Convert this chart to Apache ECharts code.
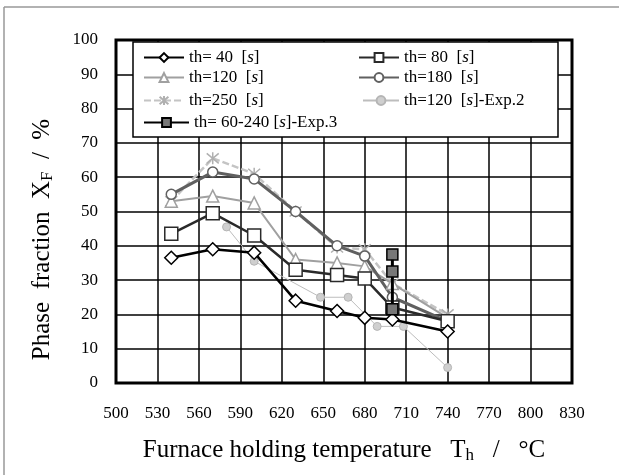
<!DOCTYPE html>
<html><head><meta charset="utf-8">
<script src="https://cdn.jsdelivr.net/npm/echarts@6/dist/echarts.min.js"></script>
<style>html,body{margin:0;padding:0;background:#fff}#c{width:619px;height:475px}</style>
</head><body><div id="c"></div>
<script>
const xTicks = [500,530,560,590,620,650,680,710,740,770,800,830];
const yTicks = [0,10,20,30,40,50,60,70,80,90,100];
const temps = [540,570,600,630,660,680,700,740];
const th40  = [36.5,39,38,24,21,19,18.5,15];
const th80  = [43.5,49.5,43,33,31.5,30.5,22,18];
const th120 = [53,54.5,52.5,36,35,34,29,19];
const th180 = [55,61.5,59.5,50,40,37,25,18];
const th250 = [53,65.5,61,50,39.5,39,29,20];
const exp2T = [580,600,648,668,689,708,740];
const exp2V = [45.5,35.5,25,25,16.5,16.5,4.5];
const exp3T = [700,700,700];
const exp3V = [37.5,32.5,21.5];
const names = ['th= 40  [s]','th= 80  [s]','th=120  [s]','th=180  [s]','th=250  [s]','th=120  [s]-Exp.2','th= 60-240 [s]-Exp.3'];

const pair = (xs, ys) => xs.map((x,i)=>[x, ys[i]]);
const serif = '"Liberation Serif","DejaVu Serif",serif';
const star = 'path://M0,0L10,10M10,0L0,10M5,-1L5,11';

function legendFmt(n){
  const i = n.indexOf('[s]');
  return '{a|' + n.slice(0,i) + '[}{i|s}{a|]' + n.slice(i+3) + '}';
}
function mkLegend(name, left, top, w){
  return {
    data:[name], left:left, top:top, itemWidth:w||40, itemHeight:11, padding:0,
    z:10, formatter: legendFmt, itemGap:4,
    textStyle:{fontFamily:serif, fontSize:17, color:'#000',
      rich:{a:{fontFamily:serif,fontSize:17,color:'#000'}, i:{fontFamily:serif,fontSize:17,fontStyle:'italic',color:'#000'}}}
  };
}

const chart = echarts.init(document.getElementById('c'));
chart.setOption({
  animation:false,
  backgroundColor:'#fff',
  grid:{left:116, top:40, right:47, bottom:92, show:true, borderColor:'#000', borderWidth:3, backgroundColor:'transparent', z:1},
  graphic:[
    {type:'line', shape:{x1:4,y1:7,x2:4,y2:475}, style:{stroke:'#999', lineWidth:1.5}, z:0},
    {type:'line', shape:{x1:4,y1:7,x2:619,y2:7}, style:{stroke:'#999', lineWidth:1.5}, z:0},
    {type:'rect', shape:{x:133,y:42,width:425,height:95}, style:{fill:'#fff', stroke:'#000', lineWidth:1.5}, z:5}
  ],
  legend:[
    mkLegend(names[0],143,49),
    mkLegend(names[1],358,49),
    mkLegend(names[2],143,69),
    mkLegend(names[3],358,69),
    mkLegend(names[4],143,92),
    mkLegend(names[5],362,92,36),
    mkLegend(names[6],143,114,45)
  ],
  xAxis:{type:'value', min:500, max:830, interval:30,
    axisLine:{show:false}, axisTick:{show:false},
    splitLine:{show:true, lineStyle:{color:'#000', width:1.5}},
    axisLabel:{fontFamily:serif, fontSize:17, color:'#000', margin:22,
      formatter:v=>xTicks.includes(v)?String(v):''},
    name:'{a|Furnace holding temperature   T}{s|h}{a|   /   °C}',
    nameLocation:'middle', nameGap:53,
    nameTextStyle:{rich:{a:{fontFamily:serif,fontSize:25,color:'#000'}, s:{fontFamily:serif,fontSize:17,color:'#000',padding:[11,0,0,0]}}}
  },
  yAxis:{type:'value', min:0, max:100, interval:10,
    axisLine:{show:false}, axisTick:{show:false},
    splitLine:{show:true, lineStyle:{color:'#000', width:1.5}},
    axisLabel:{fontFamily:serif, fontSize:17, color:'#000', margin:18, padding:[0,0,8,0],
      formatter:v=>yTicks.includes(v)?String(v):''},
    name:'{a|Phase  fraction  X}{s|F}{a|  /  %}',
    nameLocation:'middle', nameGap:60,
    nameTextStyle:{padding:[0,56,0,0], rich:{a:{fontFamily:serif,fontSize:25,color:'#000'}, s:{fontFamily:serif,fontSize:17,color:'#000',padding:[11,0,0,0]}}}
  },
  series:[
    {name:names[4], type:'line', data:pair(temps,th250), symbol:star, symbolSize:12,
      lineStyle:{color:'#c4c4c4', width:2.5, type:[7,3]}, itemStyle:{color:'#fff', borderColor:'#b0b0b0', borderWidth:1.5}, z:2},
    {name:names[2], type:'line', data:pair(temps,th120), symbol:'triangle', symbolSize:12,
      lineStyle:{color:'#a0a0a0', width:2}, itemStyle:{color:'#fff', borderColor:'#a0a0a0', borderWidth:1.5}, z:3},
    {name:names[3], type:'line', data:pair(temps,th180), symbol:'circle', symbolSize:10,
      lineStyle:{color:'#606060', width:3}, itemStyle:{color:'#fff', borderColor:'#606060', borderWidth:1.5}, z:3},
    {name:names[5], type:'line', data:pair(exp2T,exp2V), symbol:'circle', symbolSize:8,
      lineStyle:{color:'#bdbdbd', width:1}, itemStyle:{color:'#cfcfcf', borderColor:'#b5b5b5', borderWidth:1}, z:3},
    {name:names[1], type:'line', data:pair(temps,th80), symbol:'rect', symbolSize:13,
      lineStyle:{color:'#2a2a2a', width:2.5}, itemStyle:{color:'#fff', borderColor:'#2a2a2a', borderWidth:1.5}, z:4},
    {name:names[0], type:'line', data:pair(temps,th40), symbol:'diamond', symbolSize:13,
      lineStyle:{color:'#000', width:2.5}, itemStyle:{color:'#fff', borderColor:'#000', borderWidth:1.5}, z:4},
    {name:names[6], type:'line', data:pair(exp3T,exp3V), symbol:'rect', symbolSize:11,
      lineStyle:{color:'#000', width:3}, itemStyle:{color:'#777', borderColor:'#000', borderWidth:1.5}, z:5}
  ]
});
</script></body></html>
